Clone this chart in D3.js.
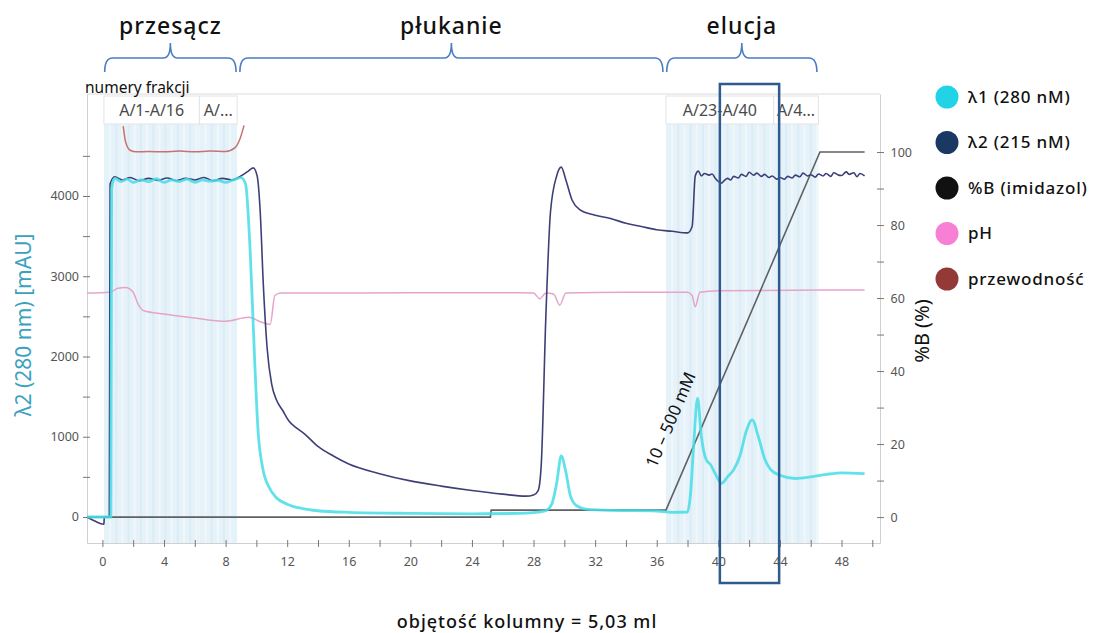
<!DOCTYPE html>
<html>
<head>
<meta charset="utf-8">
<script src="https://cdn.jsdelivr.net/npm/d3@7"></script>
<style>
  body { margin: 0; background: #fff; }
  text { font-family: "Noto Sans", sans-serif; }
</style>
</head>
<body>
<div id="chart"></div>
<script>
// ---- data (x = volume [ml]) ----
var uv280 = [[-1,0],[0.55,0],[0.6,4100],[0.8,4220],[1.2,4180],[1.6,4210],[2,4170],[2.5,4200],[3,4180],[3.5,4215],[4,4170],
  [4.5,4200],[5,4180],[5.5,4210],[6,4170],[6.5,4200],[7,4185],[7.5,4195],[8,4170],[8.5,4200],[9,4230],[9.3,4150],[9.6,3300],
  [9.9,1900],[10.1,1100],[10.4,620],[10.8,380],[11.3,240],[12,160],[13,105],[14,78],[16,58],[20,45],[24,40],[27,45],[28,55],
  [28.8,80],[29.2,170],[29.5,420],[29.8,760],[30.1,560],[30.4,260],[30.8,140],[31.5,95],[33,82],[36,75],[37,58],[38,62],
  [38.2,300],[38.4,900],[38.65,1480],[38.9,1000],[39.2,720],[39.5,650],[39.8,540],[40.2,420],[40.6,500],[41,590],[41.4,760],
  [41.8,1060],[42.2,1210],[42.6,1000],[43,730],[43.4,590],[44,520],[45,480],[46,500],[47,530],[48,550],[49.5,540]];

var uv215 = [[-1,0],[-0.5,-50],[0.1,-90],[0.12,0],[0.45,0],[0.5,4150],[0.8,4240],[1.3,4200],[1.8,4230],[2.4,4190],[3,4220],
  [3.6,4195],[4.2,4225],[4.8,4190],[5.4,4220],[6,4200],[6.6,4230],[7.2,4190],[7.8,4220],[8.4,4200],[9,4250],[9.4,4300],
  [9.8,4350],[10.05,4250],[10.25,3800],[10.45,2900],[10.7,2100],[11,1650],[11.3,1460],[11.7,1330],[12.1,1200],[12.6,1110],
  [13.1,1040],[14,880],[15,760],[16,660],[18,540],[20,450],[22,385],[24,330],[26,285],[27.5,260],[28,275],[28.3,330],
  [28.5,650],[28.8,2500],[29.1,3800],[29.5,4250],[29.8,4360],[30.1,4200],[30.5,3950],[31,3830],[32,3760],[33,3720],
  [34,3660],[35,3620],[36,3580],[37,3560],[38,3540],[38.3,3620],[38.5,4250],[38.7,4310],[38.9,4250],[39.1,4280],
  [39.4,4260],[39.6,4275],[39.8,4220],[40.2,4160],[40.4,4195],[40.6,4220],[40.8,4200],[41,4245],[41.3,4225],[41.5,4270],
  [41.8,4245],[42,4295],[42.3,4260],[42.5,4285],[42.8,4245],[43,4270],[43.3,4230],[43.5,4250],[43.8,4210],[44,4230],
  [44.3,4210],[44.5,4245],[44.8,4225],[45,4260],[45.3,4240],[45.5,4285],[45.8,4250],[46,4265],[46.3,4235],[46.5,4275],
  [46.8,4250],[47,4280],[47.3,4245],[47.5,4290],[47.8,4260],[48,4255],[48.3,4300],[48.5,4270],[48.8,4290],[49,4240],
  [49.2,4280],[49.5,4250]];

// pH and conductivity traces, plotted on the left (mAU) scale as drawn
var ph = [[-1,2790],[0.5,2800],[1,2850],[1.5,2860],[2,2800],[2.3,2660],[2.7,2570],[4,2530],[6,2480],[8,2440],[9.5,2490],
  [10.3,2430],[10.9,2400],[11.2,2760],[11.6,2790],[14,2790],[20,2795],[27,2795],[28,2790],[28.4,2720],[28.8,2790],
  [29.3,2780],[29.7,2640],[30.1,2790],[34,2800],[38,2800],[38.3,2760],[38.5,2620],[38.8,2800],[40,2820],[49.5,2830]];

var conductivity = [[1.35,4870],[1.5,4680],[1.8,4570],[2.2,4550],[3,4555],[4,4550],[5,4560],[6,4550],[7,4560],[8,4555],
  [8.6,4600],[8.95,4720],[9.2,4880]];

var percentB = [[-1,0],[25.2,0],[25.25,1.9],[36.6,1.9],[46.6,100],[49.5,100]];

var sections = [{name: "przesącz", from: 0.15, to: 8.68}, {name: "płukanie", from: 8.93, to: 36.4},
  {name: "elucja", from: 36.65, to: 46.4}];

var fractionBlocks = [{label: "A/1-A/16", from: 0.1, to: 6.3}, {label: "A/...", from: 6.3, to: 8.75},
  {label: "A/23-A/40", from: 36.6, to: 43.6}, {label: "A/4...", from: 43.6, to: 46.5}];
var fractionSize = 0.4;

var highlight = [40.1, 43.95];

var xTicks = [0, 4, 8, 12, 16, 20, 24, 28, 32, 36, 40, 44, 48];
var yTicks = [0, 1000, 2000, 3000, 4000];
var bTicks = [0, 20, 40, 60, 80, 100];

var legendItems = [
  {label: "λ1 (280 nM)", color: "#22d3e8"},
  {label: "λ2 (215 nM)", color: "#1b3862"},
  {label: "%B (imidazol)", color: "#111111"},
  {label: "pH", color: "#f77fd4"},
  {label: "przewodność", color: "#943a36"}
];

// ---- layout ----
var svgWidth = 1104, svgHeight = 633;
var plot = {left: 87, right: 880, top: 94, bottom: 543};

var svg = d3.select("#chart").append("svg")
  .attr("width", svgWidth)
  .attr("height", svgHeight);

var x = d3.scaleLinear().domain([-1, 50.5]).range([plot.left, plot.right]);
var y = d3.scaleLinear().domain([-324, 5271]).range([plot.bottom, plot.top]);
var yB = d3.scaleLinear().domain([-7.1, 115.9]).range([plot.bottom, plot.top]);

// fraction shading
fractionBlocks.forEach(function(b) {
  svg.append("rect")
    .attr("x", x(b.from)).attr("y", 124)
    .attr("width", x(b.to) - x(b.from)).attr("height", plot.bottom - 124)
    .attr("fill", "#e6f2f9");
  d3.range(b.from + fractionSize, b.to - 0.05, fractionSize).forEach(function(v, i) {
    svg.append("line")
      .attr("x1", x(v)).attr("x2", x(v))
      .attr("y1", 124).attr("y2", plot.bottom)
      .attr("stroke", i % 2 ? "#dcecf5" : "#f0f7fb")
      .attr("stroke-width", 2);
  });
});

// frame
svg.append("line").attr("x1", plot.left).attr("x2", plot.right).attr("y1", plot.top).attr("y2", plot.top)
  .attr("stroke", "#dcdcdc");

// fraction label boxes
fractionBlocks.forEach(function(b) {
  svg.append("rect")
    .attr("x", x(b.from)).attr("y", 96)
    .attr("width", x(b.to) - x(b.from)).attr("height", 28)
    .attr("fill", "#fff").attr("stroke", "#e3e3e3");
  svg.append("text")
    .attr("x", (x(b.from) + x(b.to)) / 2).attr("y", 116)
    .attr("text-anchor", "middle")
    .attr("fill", "#4a4a4a").style("font-size", "16px")
    .text(b.label);
});

// axes
var bottomAxis = d3.axisBottom(x).tickValues(d3.range(0, 51, 2)).tickSize(0)
  .tickFormat(function(d) { return xTicks.indexOf(d) >= 0 ? d : ""; });
var gx = svg.append("g").attr("transform", "translate(0," + plot.bottom + ")").call(bottomAxis);
gx.select(".domain").attr("stroke", "#d0d0d0");
gx.selectAll(".tick").append("line").attr("y1", -3).attr("y2", 4).attr("stroke", "#777");
gx.selectAll("text").attr("dy", "1.6em").attr("fill", "#555").style("font-size", "12.5px");

var leftAxis = d3.axisLeft(y).tickValues(d3.range(0, 4501, 500)).tickSize(0)
  .tickFormat(function(d) { return yTicks.indexOf(d) >= 0 ? d : ""; });
var gy = svg.append("g").attr("transform", "translate(" + plot.left + ",0)").call(leftAxis);
gy.select(".domain").attr("stroke", "#d0d0d0");
gy.selectAll(".tick").append("line").attr("x1", -4).attr("x2", 3).attr("stroke", "#777");
gy.selectAll("text").attr("dx", "-0.4em").attr("fill", "#555").style("font-size", "12.5px");

var rightAxis = d3.axisRight(yB).tickValues(d3.range(0, 101, 10)).tickSize(0)
  .tickFormat(function(d) { return bTicks.indexOf(d) >= 0 ? d : ""; });
var gb = svg.append("g").attr("transform", "translate(" + plot.right + ",0)").call(rightAxis);
gb.select(".domain").attr("stroke", "#d0d0d0");
gb.selectAll(".tick").append("line").attr("x1", -3).attr("x2", 4).attr("stroke", "#777");
gb.selectAll("text").attr("dx", "0.6em").attr("fill", "#555").style("font-size", "12.5px");

// traces
var line = d3.line().x(function(d) { return x(d[0]); }).y(function(d) { return y(d[1]); }).curve(d3.curveMonotoneX);
var lineB = d3.line().x(function(d) { return x(d[0]); }).y(function(d) { return yB(d[1]); });

svg.append("path").datum(conductivity).attr("d", line)
  .attr("fill", "none").attr("stroke", "#c77272").attr("stroke-width", 1.5);
svg.append("path").datum(ph).attr("d", line)
  .attr("fill", "none").attr("stroke", "#e6a3cc").attr("stroke-width", 1.5);
svg.append("path").datum(percentB).attr("d", lineB)
  .attr("fill", "none").attr("stroke", "#5e6064").attr("stroke-width", 1.6);
svg.append("path").datum(uv215).attr("d", line)
  .attr("fill", "none").attr("stroke", "#3f3f78").attr("stroke-width", 1.6);
svg.append("path").datum(uv280).attr("d", line)
  .attr("fill", "none").attr("stroke", "#45dde6").attr("stroke-width", 2.8).attr("opacity", 0.85);

// gradient annotation
svg.append("text")
  .attr("transform", "translate(676,422) rotate(-66.7)")
  .attr("text-anchor", "middle")
  .attr("fill", "#111").style("font-size", "17px")
  .text("10 – 500 mM");

// highlighted fractions
svg.append("rect")
  .attr("x", x(highlight[0])).attr("y", 84)
  .attr("width", x(highlight[1]) - x(highlight[0])).attr("height", 499)
  .attr("fill", "none").attr("stroke", "#2e5a8e").attr("stroke-width", 2.5);

// section braces and titles
sections.forEach(function(s) {
  var x1 = x(s.from), x2 = x(s.to), m = (x1 + x2) / 2;
  var p = "M" + x1 + ",72 Q" + x1 + ",58 " + (x1 + 8) + ",58 L" + (m - 7) + ",58 Q" + m + ",58 " + m + ",43" +
    " Q" + m + ",58 " + (m + 7) + ",58 L" + (x2 - 8) + ",58 Q" + x2 + ",58 " + x2 + ",72";
  svg.append("path").attr("d", p).attr("fill", "none").attr("stroke", "#4a7dc4").attr("stroke-width", 1.6);
  svg.append("text")
    .attr("x", m).attr("y", 34)
    .attr("text-anchor", "middle")
    .attr("fill", "#111").style("font-size", "23px").style("font-weight", 500)
    .style("letter-spacing", "1px")
    .text(s.name);
});

svg.append("text").attr("x", 85).attr("y", 93)
  .attr("fill", "#111").style("font-size", "15.5px")
  .text("numery frakcji");

// axis titles
svg.append("text")
  .attr("transform", "translate(31,325) rotate(-90)")
  .attr("text-anchor", "middle")
  .attr("fill", "#3aa2be").style("font-size", "21px")
  .text("λ2 (280 nm) [mAU]");

svg.append("text")
  .attr("transform", "translate(929,331) rotate(-90)")
  .attr("text-anchor", "middle")
  .attr("fill", "#111").style("font-size", "20px")
  .text("%B (%)");

svg.append("text")
  .attr("x", 527).attr("y", 628)
  .attr("text-anchor", "middle")
  .attr("fill", "#111").style("font-size", "18px").style("font-weight", 500)
  .style("letter-spacing", "1px")
  .text("objętość kolumny = 5,03 ml");

// legend
var legend = svg.selectAll(".legend").data(legendItems).enter().append("g")
  .attr("class", "legend")
  .attr("transform", function(d, i) { return "translate(947," + (97 + i * 45.5) + ")"; });
legend.append("circle").attr("r", 11.5).attr("fill", function(d) { return d.color; });
legend.append("text").attr("x", 21).attr("dy", "0.35em")
  .attr("fill", "#111").style("font-size", "17px").style("font-weight", 500)
  .style("letter-spacing", "0.8px")
  .text(function(d) { return d.label; });
</script>
</body>
</html>
